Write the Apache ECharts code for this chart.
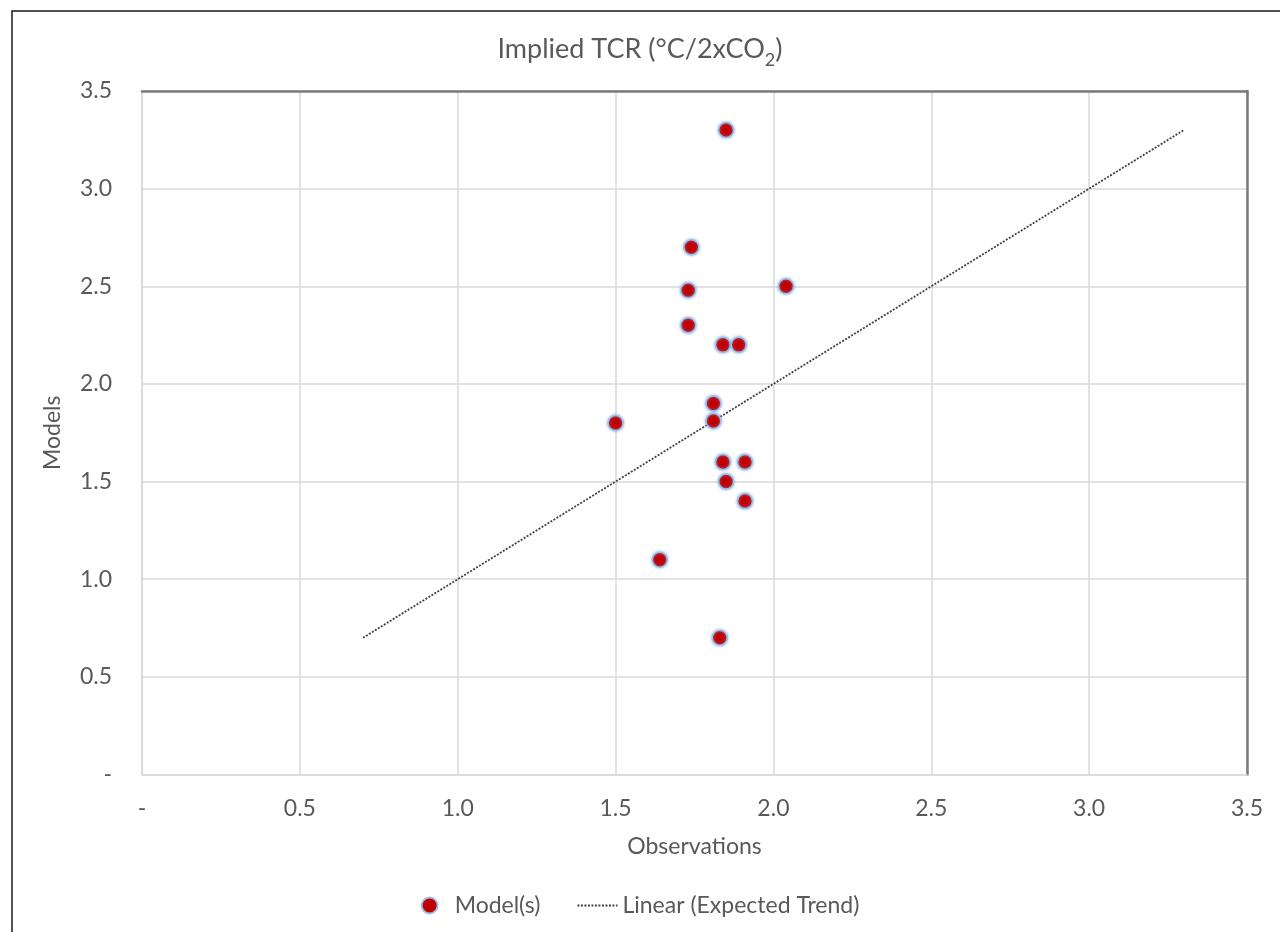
<!DOCTYPE html>
<html>
<head>
<meta charset="utf-8">
<script src="https://cdn.jsdelivr.net/npm/echarts@6/dist/echarts.min.js"></script>
<style>
html,body{margin:0;padding:0;background:#fff;}
#chart{width:1280px;height:932px;}
</style>
</head>
<body>
<div id="chart"></div>
<script>
// Observations (x) and Models (y) implied TCR
const observations = [1.85, 1.74, 1.73, 2.04, 1.73, 1.84, 1.89, 1.81, 1.81, 1.50, 1.84, 1.91, 1.85, 1.91, 1.64, 1.83];
const models       = [3.30, 2.70, 2.48, 2.50, 2.30, 2.20, 2.20, 1.90, 1.81, 1.80, 1.60, 1.60, 1.50, 1.40, 1.10, 0.70];
const trendX = [0.7, 3.3];
const trendY = [0.7, 3.3];
const tickValues = [0, 0.5, 1.0, 1.5, 2.0, 2.5, 3.0, 3.5];
const tickLabels = ['-', '0.5', '1.0', '1.5', '2.0', '2.5', '3.0', '3.5'];

const FONT = 'Lato, "Open Sans", sans-serif';
const TXT = '#595959';
function tickFmt(v){
  const i = tickValues.findIndex(t => Math.abs(t - v) < 1e-6);
  return i >= 0 ? tickLabels[i] : '';
}

const chart = echarts.init(document.getElementById('chart'));
chart.setOption({
  backgroundColor: '#fff',
  animation: false,
  textStyle: { fontFamily: FONT },
  graphic: [{
    type: 'rect',
    shape: { x: 12, y: 11, width: 1300, height: 1000 },
    style: { fill: 'none', stroke: '#1a1a1a', lineWidth: 1.5 },
    silent: true
  }],
  title: {
    text: '{a|Implied TCR (°C/2xCO}{b|2}{a|)}',
    left: 'center',
    top: 26,
    textStyle: {
      fontWeight: 'normal',
      rich: {
        a: { fontFamily: FONT, fontSize: 27, fontWeight: 'normal', color: TXT, lineHeight: 32, verticalAlign: 'bottom' },
        b: { fontFamily: FONT, fontSize: 18, fontWeight: 'normal', color: TXT, lineHeight: 18, padding: [0,0,-6,0], verticalAlign: 'bottom' }
      }
    }
  },
  grid: { left: 142, right: 33, top: 91, bottom: 157.5, containLabel: false },
  legend: {
    bottom: 10,
    left: 'center',
    itemGap: 36,
    itemWidth: 40,
    itemHeight: 16,
    textStyle: { fontFamily: FONT, fontSize: 23, color: TXT },
    data: [
      { name: 'Model(s)' },
      { name: 'Linear (Expected Trend)', itemStyle: { opacity: 0 } }
    ]
  },
  xAxis: [{
    type: 'value', min: 0, max: 3.5, interval: 0.5,
    name: 'Observations', nameLocation: 'middle', nameGap: 61,
    nameTextStyle: { fontFamily: FONT, fontSize: 23, color: TXT },
    axisLine: { show: true, lineStyle: { color: '#d9d9d9', width: 1.5 } },
    axisTick: { show: false },
    axisLabel: { fontFamily: FONT, fontSize: 23, color: TXT, margin: 23, formatter: tickFmt },
    splitLine: { show: true, lineStyle: { color: '#d9d9d9', width: 1.5 } }
  }, {
    type: 'value', position: 'top', min: 0, max: 3.5, interval: 0.5,
    axisLine: { show: true, onZero: false, lineStyle: { color: '#7a7a7a', width: 2.5 } },
    axisTick: { show: false }, axisLabel: { show: false }, splitLine: { show: false }
  }],
  yAxis: [{
    type: 'value', min: 0, max: 3.5, interval: 0.5,
    name: 'Models', nameLocation: 'middle', nameGap: 78, nameRotate: 90,
    nameTextStyle: { fontFamily: FONT, fontSize: 23, color: TXT },
    axisLine: { show: true, lineStyle: { color: '#d9d9d9', width: 1.5 } },
    axisTick: { show: false },
    axisLabel: { fontFamily: FONT, fontSize: 23, color: TXT, margin: 30, formatter: tickFmt },
    splitLine: { show: true, lineStyle: { color: '#d9d9d9', width: 1.5 } }
  }, {
    type: 'value', position: 'right', min: 0, max: 3.5, interval: 0.5,
    axisLine: { show: true, onZero: false, lineStyle: { color: '#7a7a7a', width: 2.5 } },
    axisTick: { show: false }, axisLabel: { show: false }, splitLine: { show: false }
  }],
  series: [{
    name: 'Model(s)',
    type: 'scatter',
    symbol: 'circle',
    symbolSize: 15,
    itemStyle: { color: '#c00000', opacity: 1, borderColor: '#9cc0ea', borderWidth: 1.5,
                 shadowColor: 'rgba(120,165,225,0.8)', shadowBlur: 3 },
    data: observations.map((x, i) => [x, models[i]]),
    z: 3
  }, {
    name: 'Linear (Expected Trend)',
    type: 'line',
    symbol: 'none',
    lineStyle: { color: '#404040', width: 1.8, type: [2, 1.5] },
    itemStyle: { color: '#404040' },
    data: trendX.map((x, i) => [x, trendY[i]]),
    z: 2
  }]
});
</script>
</body>
</html>
